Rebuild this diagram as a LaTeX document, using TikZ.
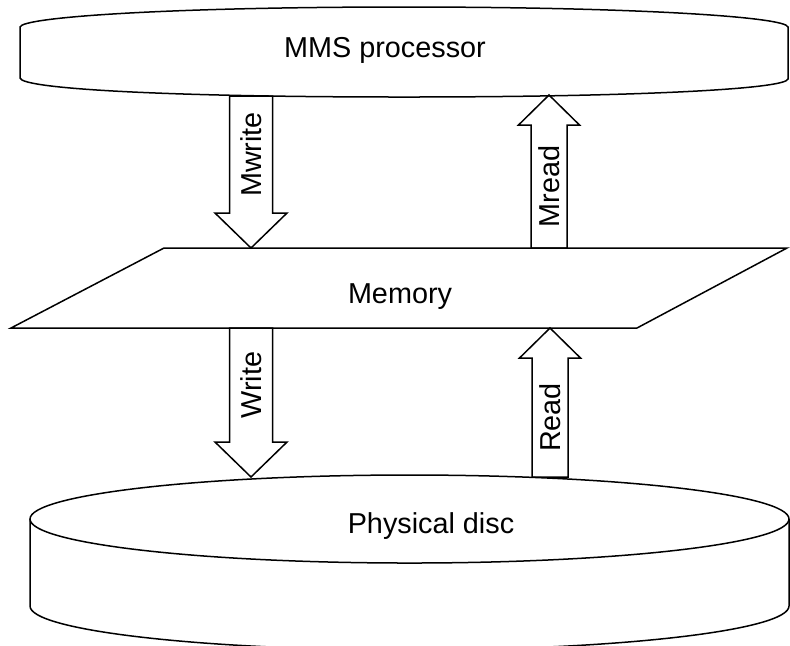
\documentclass[tikz,border=0pt]{standalone}
\usepackage{fontspec}
\setmainfont{Liberation Sans}
\usetikzlibrary{calc}

% hollow block arrow: from, to, half shaft, half head, head length, label, name
\newcommand{\blockarrow}[7]{%
  \coordinate (#7-h) at ($(#2)!#5!(#1)$);
  \draw[outline] ($(#1)+(-#3,0)$) -- ($(#7-h)+(-#3,0)$) -- ($(#7-h)+(-#4,0)$) -- (#2)
    -- ($(#7-h)+(#4,0)$) -- ($(#7-h)+(#3,0)$) -- ($(#1)+(#3,0)$) -- cycle;
  \node[lbl, rotate=90] (#7) at ($(#1)!0.5!(#7-h)$) {#6};
}

\begin{document}
\begin{tikzpicture}[x=0.5pt, y=-0.5pt,
  outline/.style={draw, line width=0.75pt},
  lbl/.style={font=\fontsize{14.4}{17}\selectfont, inner sep=0pt}]
  \clip (0,0) rectangle (790,645);
  \fill[white] (0,0) rectangle (790,645);

  % MMS processor
  \draw[outline] (20,27) .. controls (22,17) and (170,7) .. (404,7) .. controls (638,7) and (786,17) .. (788,27)
    -- (788,79) .. controls (786,89) and (638,97) .. (404,97) .. controls (170,97) and (22,89) .. (20,78) -- cycle;
  \node[lbl, anchor=base] (mms) at (385,57) {MMS processor};

  % Memory
  \draw[outline] (164,248) -- (787,248) -- (637,328) -- (11,328) -- cycle;
  \node[lbl, anchor=base] (mem) at (400,303) {Memory};

  % Physical disc
  \draw[outline] (30,519) -- (30,606) arc[start angle=180, end angle=0, x radius=379.5, y radius=44] -- (789,519);
  \draw[outline] (409.5,519) ellipse[x radius=379.5, y radius=44];
  \node[lbl, anchor=base] (disc) at (431,533) {Physical disc};

  % arrow ends on the outlines
  \coordinate (mmsL) at (251,96);
  \coordinate (mmsR) at (549,95);
  \coordinate (memTL) at (251,248);
  \coordinate (memTR) at (549,248);
  \coordinate (memBL) at (251,328);
  \coordinate (memBR) at (550,328);
  \coordinate (discL) at (251,477);
  \coordinate (discR) at (550,477);

  \blockarrow{mmsL}{memTL}{21.5}{36}{17.5pt}{Mwrite}{mw}
  \blockarrow{memTR}{mmsR}{18}{30.5}{15pt}{Mread}{mr}
  \blockarrow{memBL}{discL}{21.5}{36}{17.5pt}{Write}{wr}
  \blockarrow{discR}{memBR}{18}{30.5}{15pt}{Read}{rd}
\end{tikzpicture}
\end{document}
